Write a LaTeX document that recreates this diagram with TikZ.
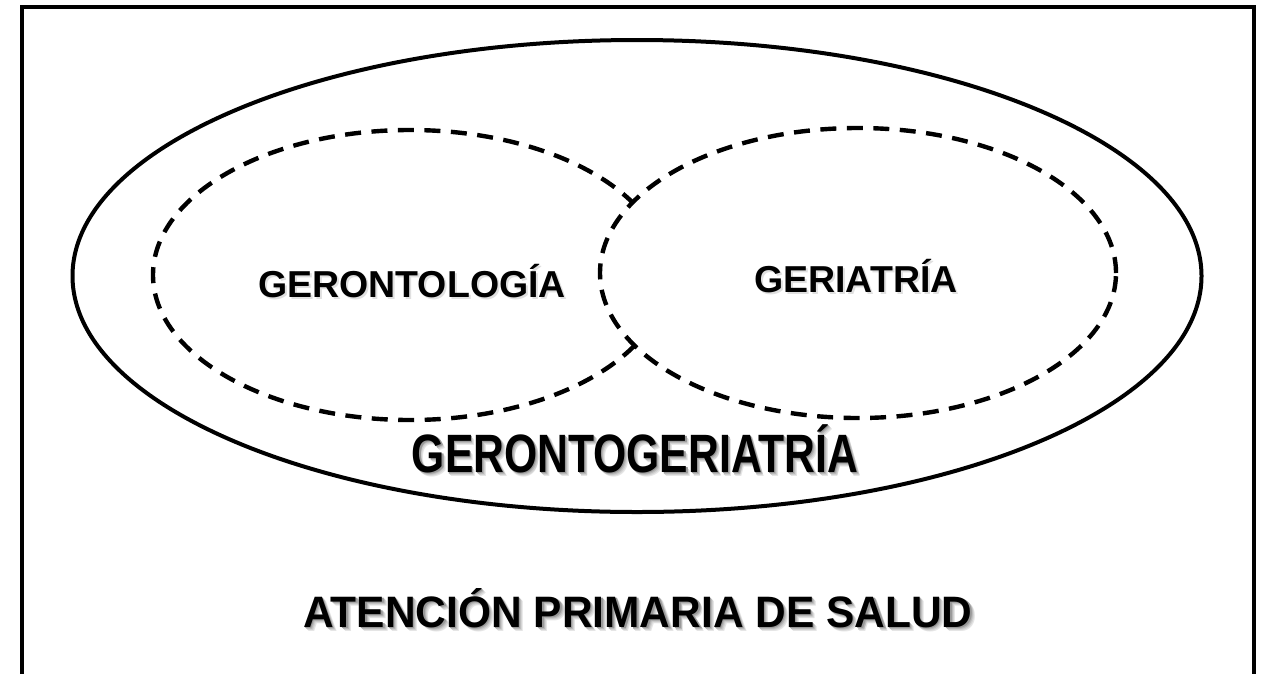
\documentclass[tikz,border=0pt]{standalone}
\usepackage{fontspec}
\setmainfont{Liberation Sans}
\usetikzlibrary{shapes.geometric}
\tikzset{
  frameline/.style={line width=4.8pt, line cap=butt},
  outerell/.style={draw, ellipse, line width=4pt, inner sep=0pt, outer sep=0pt},
  dashell/.style={draw, ellipse, line width=4.4pt, dash pattern=on 16pt off 10.5pt, inner sep=0pt, outer sep=0pt},
  lbl/.style={anchor=base, inner sep=0pt, outer sep=0pt, text=black},
}
\newcommand{\smallfont}{\fontsize{37.5}{40}\selectfont\bfseries}
\newcommand{\midfont}{\fontsize{54}{58}\selectfont\bfseries}
\newcommand{\bigfont}{\fontsize{44}{48}\selectfont\bfseries}
\newcommand{\shcopy}[3]{\rlap{\hspace{#1}\raisebox{-#1}{\textcolor{#2}{#3}}}}
\newcommand{\shadowed}[1]{\leavevmode\shcopy{4.5pt}{black!10}{#1}\shcopy{3.5pt}{black!18}{#1}\shcopy{2.5pt}{black!28}{#1}\shcopy{1.5pt}{black!40}{#1}#1}
\newcommand{\lightshadowed}[1]{\leavevmode\shcopy{2pt}{black!12}{#1}#1}
\begin{document}
\begin{tikzpicture}[x=1pt, y=-1pt]
\useasboundingbox (0,0) rectangle (1263,673);
\fill[white] (0,0) rectangle (1263,673);
% frame (open at the bottom)
\draw[frameline] (22,690) -- (22,7) -- (1254,7) -- (1254,690);
% outer ellipse
\node[outerell, minimum width=1129pt, minimum height=472pt] (outer) at (637,276) {};
% left dashed ellipse
\node[dashell, minimum width=514pt, minimum height=290pt] (left) at (410,275) {};
% right dashed ellipse, covering the left one
\node[dashell, fill=white, minimum width=516pt, minimum height=290pt] (right) at (858,273) {};
% labels
\node[lbl, font=\smallfont] (gtl) at (412,297) {\lightshadowed{GERONTOLOGÍA}};
\node[lbl, font=\smallfont] (ger) at (856,292) {\lightshadowed{GERIATRÍA}};
\node[lbl, font=\midfont] (gg) at (635,472) {\scalebox{0.79}[1]{\shadowed{GERONTOGERIATRÍA}}};
\node[lbl, font=\bigfont] (aps) at (638,627) {\scalebox{0.965}[1]{\shadowed{ATENCIÓN PRIMARIA DE SALUD}}};
\end{tikzpicture}
\end{document}
